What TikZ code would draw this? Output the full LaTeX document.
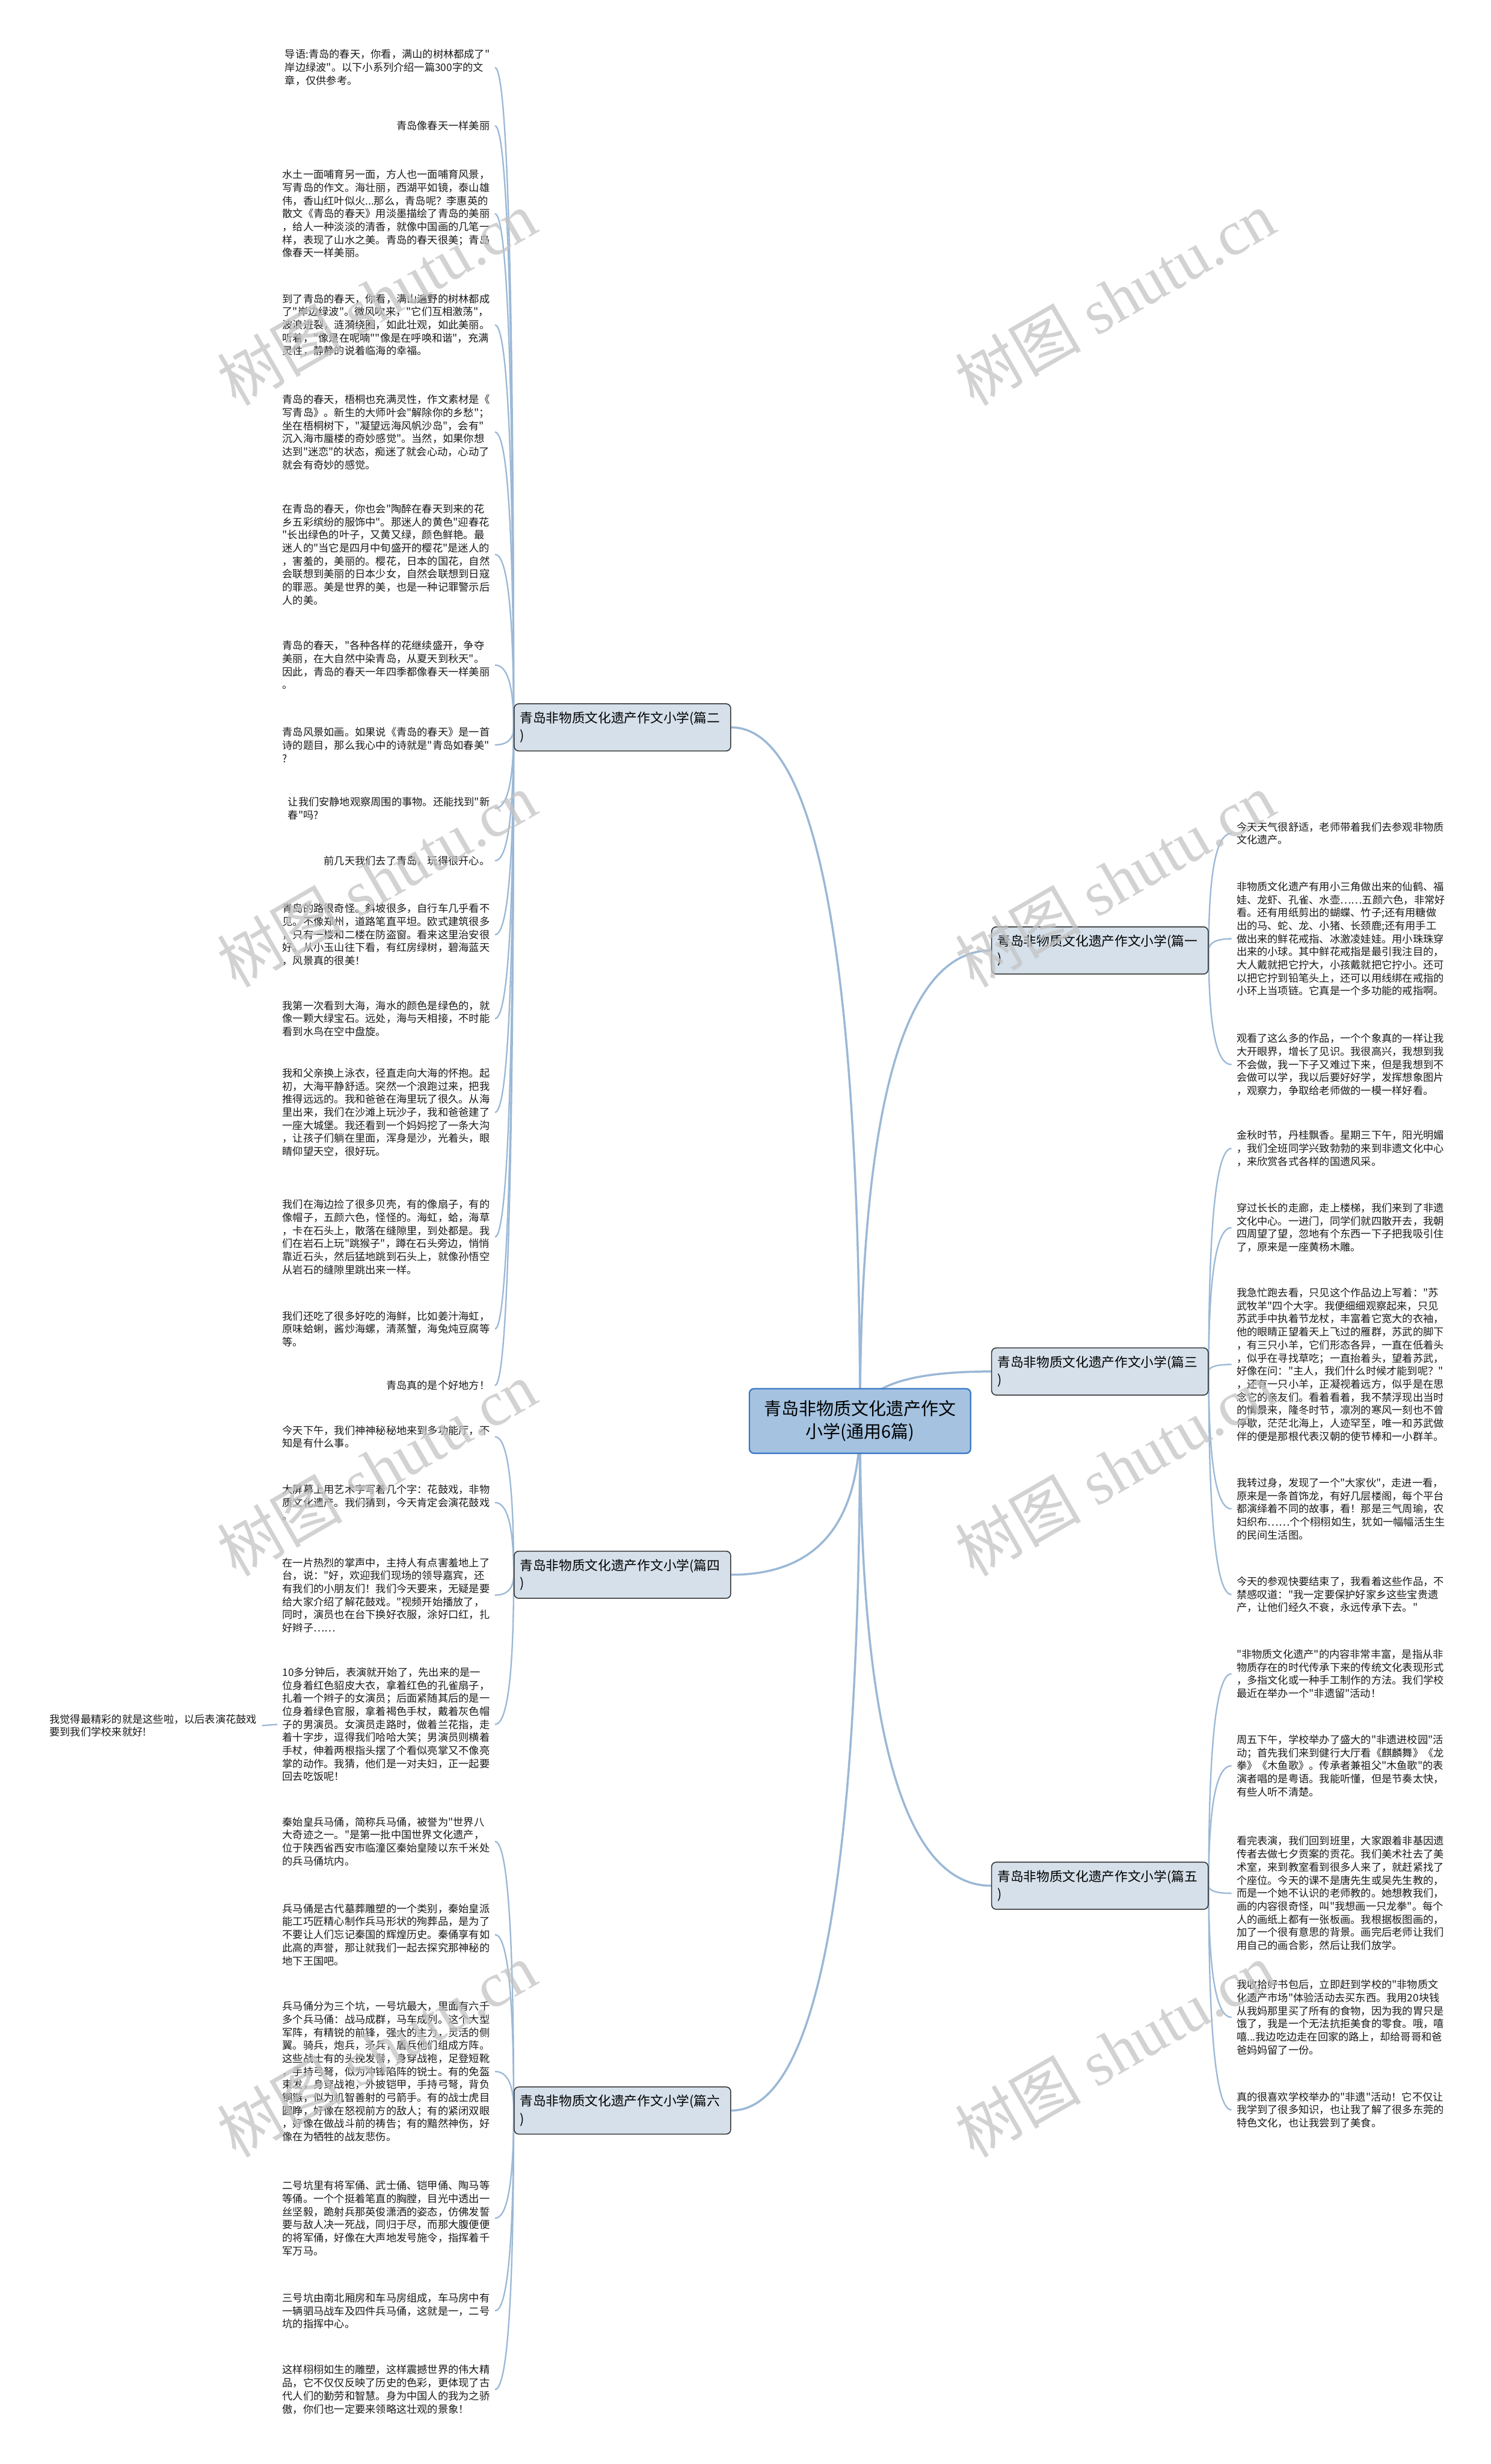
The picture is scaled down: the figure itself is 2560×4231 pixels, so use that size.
\documentclass[tikz,border=0pt]{standalone}
\usepackage{fontspec}
\newfontfamily\cjk{Noto Sans CJK SC}
\newfontfamily\wmfont{Liberation Serif}
\usetikzlibrary{calc,backgrounds}

\definecolor{rootfill}{HTML}{A5C3E1}
\definecolor{rootline}{HTML}{3C78C8}
\definecolor{branchfill}{HTML}{D5E0EA}
\definecolor{branchline}{HTML}{333333}
\definecolor{linkblue}{HTML}{9BB8D6}
\definecolor{wmgray}{HTML}{C4C4C4}

\tikzset{
  root/.style={draw=rootline, fill=rootfill, line width=0.6pt, rounded corners=2pt,
    minimum width=95pt, minimum height=27.75pt, align=center,
    font=\cjk\fontsize{7.5pt}{9.75pt}\selectfont},
  branch/.style={draw=branchline, fill=branchfill, line width=0.4pt, rounded corners=2pt,
    minimum width=93pt, minimum height=20.25pt, text width=88pt, inner xsep=2.5pt, align=left,
    font=\cjk\fontsize{5.6pt}{7.5pt}\selectfont},
  leaf/.style={align=left, inner xsep=2pt, inner ysep=1pt, text=black!90,
    font=\cjk\fontsize{4.45pt}{5.6pt}\selectfont},
  leftleaf/.style={leaf, anchor=east},
  rightleaf/.style={leaf, anchor=west},
  trunk/.style={draw=linkblue, line width=0.9pt},
  twig/.style={draw=linkblue, line width=0.6pt},
  wmark/.style={text=wmgray, text opacity=0.75, rotate=30, font=\wmfont\fontsize{27pt}{27pt}\selectfont}
}

% curve that leaves #2 vertically and ends level at #3
\newcommand\qlink[3][twig]{%
  \path (#2 |- #3) coordinate (qc);
  \draw[#1] (#2) .. controls ($(#2)!0.667!(qc)$) and ($(#3)!0.667!(qc)$) .. (#3);}

\begin{document}
\begin{tikzpicture}[x=0.25pt, y=-0.25pt]
\useasboundingbox (0,0) rectangle (2560,4231);

% centre and the six essays
\node[root] (root) at (1477,2440) {青岛非物质文化遗产作文\\小学(通用6篇)};
\node[branch] (b1) at (1889,1632) {青岛非物质文化遗产作文小学(篇一\\)};
\node[branch] (b2) at (1069,1249) {青岛非物质文化遗产作文小学(篇二\\)};
\node[branch] (b3) at (1889,2355) {青岛非物质文化遗产作文小学(篇三\\)};
\node[branch] (b4) at (1069,2704) {青岛非物质文化遗产作文小学(篇四\\)};
\node[branch] (b5) at (1889,3238) {青岛非物质文化遗产作文小学(篇五\\)};
\node[branch] (b6) at (1069,3624) {青岛非物质文化遗产作文小学(篇六\\)};

% 篇二
\node[leftleaf] (l1) at (850,116) {导语:青岛的春天，你看，满山的树林都成了"\\岸边绿波"。以下小系列介绍一篇300字的文\\章，仅供参考。};
\node[leftleaf] (l2) at (850,216) {青岛像春天一样美丽};
\node[leftleaf] (l3) at (850,367) {水土一面哺育另一面，方人也一面哺育风景，\\写青岛的作文。海壮丽，西湖平如镜，泰山雄\\伟，香山红叶似火...那么，青岛呢？李惠英的\\散文《青岛的春天》用淡墨描绘了青岛的美丽\\，给人一种淡淡的清香，就像中国画的几笔一\\样，表现了山水之美。青岛的春天很美；青岛\\像春天一样美丽。};
\node[leftleaf] (l4) at (850,558) {到了青岛的春天，你看，满山遍野的树林都成\\了"岸边绿波"。微风吹来，"它们互相激荡"，\\波浪迸裂，涟漪绕圈，如此壮观，如此美丽。\\听着，"像是在呢喃""像是在呼唤和谐"，充满\\灵性，静静的说着临海的幸福。};
\node[leftleaf] (l5) at (850,742) {青岛的春天，梧桐也充满灵性，作文素材是《\\写青岛》。新生的大师叶会"解除你的乡愁"；\\坐在梧桐树下，"凝望远海风帆沙岛"，会有"\\沉入海市蜃楼的奇妙感觉"。当然，如果你想\\达到"迷恋"的状态，痴迷了就会心动，心动了\\就会有奇妙的感觉。};
\node[leftleaf] (l6) at (850,952) {在青岛的春天，你也会"陶醉在春天到来的花\\乡五彩缤纷的服饰中"。那迷人的黄色"迎春花\\"长出绿色的叶子，又黄又绿，颜色鲜艳。最\\迷人的"当它是四月中旬盛开的樱花"是迷人的\\，害羞的，美丽的。樱花，日本的国花，自然\\会联想到美丽的日本少女，自然会联想到日寇\\的罪恶。美是世界的美，也是一种记罪警示后\\人的美。};
\node[leftleaf] (l7) at (850,1142) {青岛的春天，"各种各样的花继续盛开，争夺\\美丽，在大自然中染青岛，从夏天到秋天"。\\因此，青岛的春天一年四季都像春天一样美丽\\。};
\node[leftleaf] (l8) at (850,1279) {青岛风景如画。如果说《青岛的春天》是一首\\诗的题目，那么我心中的诗就是"青岛如春美"\\?};
\node[leftleaf] (l9) at (850,1388) {让我们安静地观察周围的事物。还能找到"新\\春"吗?};
\node[leftleaf] (l10) at (850,1478) {前几天我们去了青岛，玩得很开心。};
\node[leftleaf] (l11) at (850,1605) {青岛的路很奇怪。斜坡很多，自行车几乎看不\\见。不像郑州，道路笔直平坦。欧式建筑很多\\，只有一楼和二楼在防盗窗。看来这里治安很\\好。从小玉山往下看，有红房绿树，碧海蓝天\\，风景真的很美！};
\node[leftleaf] (l12) at (850,1749) {我第一次看到大海，海水的颜色是绿色的，就\\像一颗大绿宝石。远处，海与天相接，不时能\\看到水鸟在空中盘旋。};
\node[leftleaf] (l13) at (850,1910) {我和父亲换上泳衣，径直走向大海的怀抱。起\\初，大海平静舒适。突然一个浪跑过来，把我\\推得远远的。我和爸爸在海里玩了很久。从海\\里出来，我们在沙滩上玩沙子，我和爸爸建了\\一座大城堡。我还看到一个妈妈挖了一条大沟\\，让孩子们躺在里面，浑身是沙，光着头，眼\\睛仰望天空，很好玩。};
\node[leftleaf] (l14) at (850,2124) {我们在海边捡了很多贝壳，有的像扇子，有的\\像帽子，五颜六色，怪怪的。海虹，蛤，海草\\，卡在石头上，散落在缝隙里，到处都是。我\\们在岩石上玩"跳猴子"，蹲在石头旁边，悄悄\\靠近石头，然后猛地跳到石头上，就像孙悟空\\从岩石的缝隙里跳出来一样。};
\node[leftleaf] (l15) at (850,2282) {我们还吃了很多好吃的海鲜，比如姜汁海虹，\\原味蛤蜊，酱炒海螺，清蒸蟹，海兔炖豆腐等\\等。};
\node[leftleaf] (l16) at (850,2379) {青岛真的是个好地方！};

% 篇四
\node[leftleaf] (l17) at (850,2467) {今天下午，我们神神秘秘地来到多功能厅，不\\知是有什么事。};
\node[leftleaf] (l18) at (850,2580) {大屏幕上用艺术字写着几个字：花鼓戏，非物\\质文化遗产。我们猜到，今天肯定会演花鼓戏\\。};
\node[leftleaf] (l19) at (850,2739) {在一片热烈的掌声中，主持人有点害羞地上了\\台，说："好，欢迎我们现场的领导嘉宾，还\\有我们的小朋友们！我们今天要来，无疑是要\\给大家介绍了解花鼓戏。"视频开始播放了，\\同时，演员也在台下换好衣服，涂好口红，扎\\好辫子……};
\node[leftleaf] (l20) at (850,2961) {10多分钟后，表演就开始了，先出来的是一\\位身着红色貂皮大衣，拿着红色的孔雀扇子，\\扎着一个辫子的女演员；后面紧随其后的是一\\位身着绿色官服，拿着褐色手杖，戴着灰色帽\\子的男演员。女演员走路时，做着兰花指，走\\着十字步，逗得我们哈哈大笑；男演员则横着\\手杖，伸着两根指头摆了个看似亮掌又不像亮\\掌的动作。我猜，他们是一对夫妇，正一起要\\回去吃饭呢！};
\node[leftleaf] (l20a) at (450,2963) {我觉得最精彩的就是这些啦，以后表演花鼓戏\\要到我们学校来就好!};

% 篇六
\node[leftleaf] (l21) at (850,3162) {秦始皇兵马俑，简称兵马俑，被誉为"世界八\\大奇迹之一。"是第一批中国世界文化遗产，\\位于陕西省西安市临潼区秦始皇陵以东千米处\\的兵马俑坑内。};
\node[leftleaf] (l22) at (850,3322) {兵马俑是古代墓葬雕塑的一个类别，秦始皇派\\能工巧匠精心制作兵马形状的殉葬品，是为了\\不要让人们忘记秦国的辉煌历史。秦俑享有如\\此高的声誉，那让就我们一起去探究那神秘的\\地下王国吧。};
\node[leftleaf] (l23) at (850,3557) {兵马俑分为三个坑，一号坑最大，里面有六千\\多个兵马俑：战马成群，马车成列。这个大型\\军阵，有精锐的前锋，强大的主力，灵活的侧\\翼。骑兵，炮兵，矛兵，盾兵他们组成方阵。\\这些战士有的头挽发髻，身穿战袍，足登短靴\\，手持弓弩，似为冲锋陷阵的锐士。有的免盔\\束发，身穿战袍，外披铠甲，手持弓弩，背负\\铜镞，似为机智善射的弓箭手。有的战士虎目\\圆睁，好像在怒视前方的敌人；有的紧闭双眼\\，好像在做战斗前的祷告；有的黯然神伤，好\\像在为牺牲的战友悲伤。};
\node[leftleaf] (l24) at (850,3809) {二号坑里有将军俑、武士俑、铠甲俑、陶马等\\等俑。一个个挺着笔直的胸膛，目光中透出一\\丝坚毅，跪射兵那英俊潇洒的姿态，仿佛发誓\\要与敌人决一死战，同归于尽，而那大腹便便\\的将军俑，好像在大声地发号施令，指挥着千\\军万马。};
\node[leftleaf] (l25) at (850,3968) {三号坑由南北厢房和车马房组成，车马房中有\\一辆驷马战车及四件兵马俑，这就是一，二号\\坑的指挥中心。};
\node[leftleaf] (l26) at (850,4103) {这样栩栩如生的雕塑，这样震撼世界的伟大精\\品，它不仅仅反映了历史的色彩，更体现了古\\代人们的勤劳和智慧。身为中国人的我为之骄\\傲，你们也一定要来领略这壮观的景象！};

% 篇一
\node[rightleaf] (r1) at (2115,1431) {今天天气很舒适，老师带着我们去参观非物质\\文化遗产。};
\node[rightleaf] (r2) at (2115,1612) {非物质文化遗产有用小三角做出来的仙鹤、福\\娃、龙虾、孔雀、水壶……五颜六色，非常好\\看。还有用纸剪出的蝴蝶、竹子;还有用糖做\\出的马、蛇、龙、小猪、长颈鹿;还有用手工\\做出来的鲜花戒指、冰激凌娃娃。用小珠珠穿\\出来的小球。其中鲜花戒指是最引我注目的，\\大人戴就把它拧大，小孩戴就把它拧小。还可\\以把它拧到铅笔头上，还可以用线绑在戒指的\\小环上当项链。它真是一个多功能的戒指啊。};
\node[rightleaf] (r3) at (2115,1828) {观看了这么多的作品，一个个象真的一样让我\\大开眼界，增长了见识。我很高兴，我想到我\\不会做，我一下子又难过下来，但是我想到不\\会做可以学，我以后要好好学，发挥想象图片\\，观察力，争取给老师做的一模一样好看。};

% 篇三
\node[rightleaf] (r4) at (2115,1972) {金秋时节，丹桂飘香。星期三下午，阳光明媚\\，我们全班同学兴致勃勃的来到非遗文化中心\\，来欣赏各式各样的国遗风采。};
\node[rightleaf] (r5) at (2115,2108) {穿过长长的走廊，走上楼梯，我们来到了非遗\\文化中心。一进门，同学们就四散开去，我朝\\四周望了望，忽地有个东西一下子把我吸引住\\了，原来是一座黄杨木雕。};
\node[rightleaf] (r6) at (2115,2343) {我急忙跑去看，只见这个作品边上写着："苏\\武牧羊"四个大字。我便细细观察起来，只见\\苏武手中执着节龙杖，丰富着它宽大的衣袖，\\他的眼睛正望着天上飞过的雁群，苏武的脚下\\，有三只小羊，它们形态各异，一直在低着头\\，似乎在寻找草吃；一直抬着头，望着苏武，\\好像在问："主人，我们什么时候才能到呢？"\\，还有一只小羊，正凝视着远方，似乎是在思\\念它的亲友们。看着看着，我不禁浮现出当时\\的情景来，隆冬时节，凛冽的寒风一刻也不曾\\停歇，茫茫北海上，人迹罕至，唯一和苏武做\\伴的便是那根代表汉朝的使节棒和一小群羊。};
\node[rightleaf] (r7) at (2115,2591) {我转过身，发现了一个"大家伙"，走进一看，\\原来是一条首饰龙，有好几层楼阁，每个平台\\都演绎着不同的故事，看！那是三气周瑜，农\\妇织布……个个栩栩如生，犹如一幅幅活生生\\的民间生活图。};
\node[rightleaf] (r8) at (2115,2738) {今天的参观快要结束了，我看着这些作品，不\\禁感叹道："我一定要保护好家乡这些宝贵遗\\产，让他们经久不衰，永远传承下去。"};

% 篇五
\node[rightleaf] (r9) at (2115,2874) {"非物质文化遗产"的内容非常丰富，是指从非\\物质存在的时代传承下来的传统文化表现形式\\，多指文化或一种手工制作的方法。我们学校\\最近在举办一个"非遗留"活动！};
\node[rightleaf] (r10) at (2115,3032) {周五下午，学校举办了盛大的"非遗进校园"活\\动；首先我们来到健行大厅看《麒麟舞》《龙\\拳》《木鱼歌》。传承者兼祖父"木鱼歌"的表\\演者唱的是粤语。我能听懂，但是节奏太快，\\有些人听不清楚。};
\node[rightleaf] (r11) at (2115,3251) {看完表演，我们回到班里，大家跟着非基因遗\\传者去做七夕贡案的贡花。我们美术社去了美\\术室，来到教室看到很多人来了，就赶紧找了\\个座位。今天的课不是唐先生或吴先生教的，\\而是一个她不认识的老师教的。她想教我们，\\画的内容很奇怪，叫"我想画一只龙拳"。每个\\人的画纸上都有一张板画。我根据板图画的，\\加了一个很有意思的背景。画完后老师让我们\\用自己的画合影，然后让我们放学。};
\node[rightleaf] (r12) at (2115,3464) {我收拾好书包后，立即赶到学校的"非物质文\\化遗产市场"体验活动去买东西。我用20块钱\\从我妈那里买了所有的食物，因为我的胃只是\\饿了，我是一个无法抗拒美食的零食。哦，嘻\\嘻...我边吃边走在回家的路上，却给哥哥和爸\\爸妈妈留了一份。};
\node[rightleaf] (r13) at (2115,3623) {真的很喜欢学校举办的"非遗"活动！它不仅让\\我学到了很多知识，也让我了解了很多东莞的\\特色文化，也让我尝到了美食。};

% connectors
\begin{scope}[on background layer]
\fill[white] (0,0) rectangle (2560,4231);
\qlink[trunk]{root.center}{b1.west}
\qlink[trunk]{root.center}{b2.east}
\qlink[trunk]{root.center}{b3.west}
\qlink[trunk]{root.center}{b4.east}
\qlink[trunk]{root.center}{b5.west}
\qlink[trunk]{root.center}{b6.east}
\foreach \n in {1,...,16} {\qlink{b2.west}{l\n.east}}
\foreach \n in {17,...,20} {\qlink{b4.west}{l\n.east}}
\foreach \n in {21,...,26} {\qlink{b6.west}{l\n.east}}
\foreach \n in {1,2,3} {\qlink{b1.east}{r\n.west}}
\foreach \n in {4,...,8} {\qlink{b3.east}{r\n.west}}
\foreach \n in {9,...,13} {\qlink{b5.east}{r\n.west}}
\draw[twig] (l20.west) -- (l20a.east);
\end{scope}

% watermarks
\foreach \wy [count=\i] in {512,1511,2522,3520} {
  \node[wmark] (wl\i) at (647,\wy) {{\cjk 树图} shutu.cn};
  \node[wmark] (wr\i) at (1915,\wy) {{\cjk 树图} shutu.cn};
}
\end{tikzpicture}
\end{document}
